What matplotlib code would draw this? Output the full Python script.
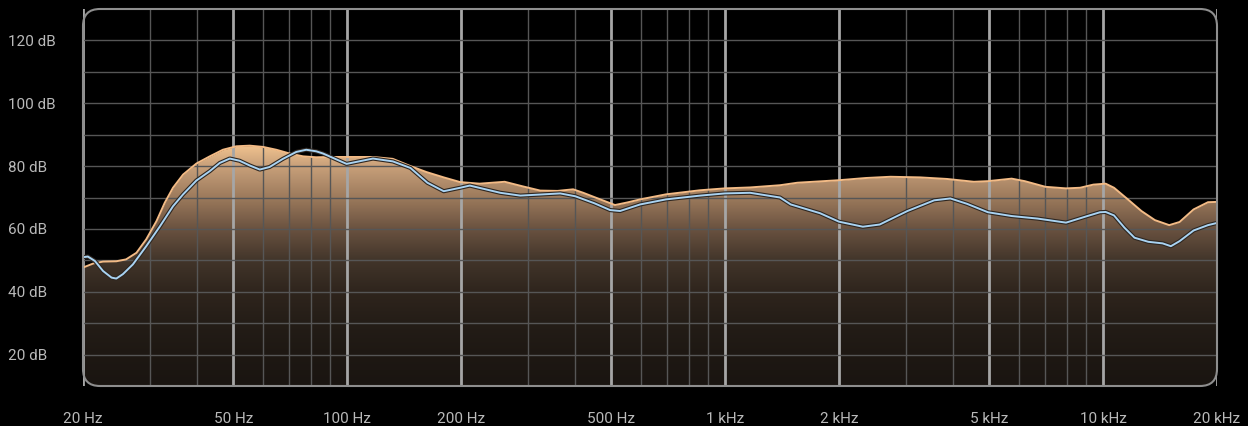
import numpy as np
import matplotlib
matplotlib.use("Agg")
import matplotlib.pyplot as plt
from matplotlib.colors import LinearSegmentedColormap
from matplotlib.patches import FancyBboxPatch
import matplotlib.patheffects as pe

# Frequency response (Hz, dB)
fill_freq = [20, 21.3, 22.6, 24.5, 26.0, 27.7, 29.4, 31.3, 32.9, 34.6, 36.8, 39.9,
             43.3, 46.9, 50.9, 55.2, 59.9, 64.9, 70.4, 76.4, 82.8, 90, 100, 117,
             132, 147, 162, 180, 199, 224, 261, 290, 324, 360, 396, 421, 467, 511,
             550, 596, 697, 858, 998, 1164, 1396, 1552, 2000, 2354, 2738, 3277,
             3862, 4549, 4957, 5726, 6200, 7032, 7973, 8688, 9420, 10150, 10680,
             11620, 12620, 13700, 14950, 15920, 17340, 18930, 20000]
fill_db = [47.7, 49.0, 49.6, 49.7, 50.3, 52.4, 56.7, 62.5, 68.3, 73.1, 77.3, 80.8,
           83.1, 85.2, 86.3, 86.5, 86.1, 85.2, 84.0, 83.1, 82.8, 82.9, 82.9, 82.9,
           82.3, 80.0, 78.1, 76.4, 74.9, 74.4, 75.0, 73.6, 72.2, 72.1, 72.6, 71.5, 69.4, 67.6,
           68.4, 69.4, 71.0, 72.3, 72.9, 73.2, 73.9, 74.7, 75.5, 76.2, 76.6, 76.4,
           75.9, 75.0, 75.2, 76.0, 75.2, 73.4, 72.9, 73.1, 74.1, 74.4, 73.1,
           69.4, 65.7, 62.8, 61.2, 62.2, 66.2, 68.5, 68.6]

line_freq = [20, 20.6, 21.5, 22.6, 23.8, 24.5, 25.5, 27.1, 29.4, 31.9, 34.6, 36.8,
             39.9, 43.3, 46.0, 48.9, 51.9, 55.2, 58.7, 62.3, 67.6, 73.3, 77.9, 82.8,
             86.3, 99.6, 117, 132, 147, 163, 180, 199, 211, 254, 287, 366, 401, 450,
             496, 527, 596, 697, 858, 998, 1164, 1396, 1490, 1782, 2000, 2313, 2563,
             3034, 3571, 3940, 4360, 4957, 5726, 6700, 7973, 9080, 9800, 10150,
             10680, 11380, 12100, 13160, 14360, 15100, 15920, 17340, 18930, 20000]
line_db = [51.0, 51.2, 49.8, 46.6, 44.5, 44.2, 45.6, 48.7, 54.5, 60.7, 67.2, 71.0,
           75.4, 78.4, 81.0, 82.4, 81.7, 80.2, 78.9, 79.7, 82.3, 84.5, 85.2, 84.7,
           84.0, 80.7, 82.4, 81.5, 79.4, 74.7, 72.0, 73.1, 73.8, 71.5, 70.6, 71.3, 70.4, 68.2,
           66.0, 65.7, 67.8, 69.4, 70.6, 71.3, 71.5, 70.0, 67.8, 65.0, 62.3, 60.7, 61.4,
           65.7, 69.1, 69.7, 68.0, 65.3, 64.1, 63.3, 62.0, 64.1, 65.3, 65.4,
           64.3, 60.4, 57.2, 55.9, 55.4, 54.5, 56.1, 59.5, 61.2, 61.9]

x_major = [20, 50, 100, 200, 500, 1000, 2000, 5000, 10000, 20000]
x_labels = ["20 Hz", "50 Hz", "100 Hz", "200 Hz", "500 Hz", "1 kHz", "2 kHz",
            "5 kHz", "10 kHz", "20 kHz"]
x_minor = [30, 40, 60, 70, 80, 90, 300, 400, 600, 700, 800, 900,
           3000, 4000, 6000, 7000, 8000, 9000]
y_major = [20, 40, 60, 80, 100, 120]
y_labels = ["20 dB", "40 dB", "60 dB", "80 dB", "100 dB", "120 dB"]
y_minor = [30, 50, 70, 90, 110]

# gradient stops (dB level, colour)
grad_db = [10, 20, 30, 40, 50, 60, 70, 80, 87, 130]
grad_col = ["#1a1511", "#1e1813", "#241d17", "#2f251d", "#42352a", "#6a5240",
            "#9c7a5c", "#c8a07a", "#f2c48f", "#f2c48f"]

Y0, Y1 = 10, 130

plt.rcParams['font.family'] = ['Roboto', 'DejaVu Sans']
fig = plt.figure(figsize=(12.48, 4.26), dpi=100, facecolor="black")
ax = fig.add_axes([83 / 1248, 40 / 426, 1134 / 1248, 377 / 426])
ax.set_facecolor("black")
ax.set_xscale("log")
ax.set_xlim(20, 20000)
ax.set_ylim(Y0, Y1)

# rounded frame
frame = FancyBboxPatch((0, 0), 1, 1, boxstyle="round,pad=0,rounding_size=0.015",
                       mutation_aspect=3.0, transform=ax.transAxes,
                       facecolor="none", edgecolor="#8e8e8e", lw=1.5,
                       zorder=5, clip_on=False)
ax.add_patch(frame)

# gradient under the curve
cmap = LinearSegmentedColormap.from_list(
    "warm", [((d - Y0) / (Y1 - Y0), c) for d, c in zip(grad_db, grad_col)])
grad = np.linspace(0, 1, 512).reshape(-1, 1)
img = ax.imshow(grad, cmap=cmap, origin="lower", extent=[0, 1, 0, 1],
                transform=ax.transAxes, aspect="auto", zorder=0,
                interpolation="bilinear")
img.set_clip_path(frame)
ax.fill_between(fill_freq, fill_db, Y1, color="black", lw=0, zorder=1)
ax.plot(fill_freq, fill_db, color="#f3bb86", lw=1.4, zorder=3)

ax.plot(line_freq, line_db, color="#a9d3f2", lw=1.4, zorder=4,
        path_effects=[pe.Stroke(linewidth=3, foreground="#2e2620"), pe.Normal()])

# grid
ax.set_xticks(x_major)
ax.set_xticklabels(x_labels)
ax.set_xticks(x_minor, minor=True)
ax.set_yticks(y_major)
ax.set_yticklabels(y_labels)
ax.set_yticks(y_minor, minor=True)
ax.set_axisbelow(False)
ax.xaxis.grid(True, which="major", color="#a6a6a6", lw=2)
ax.xaxis.grid(True, which="minor", color="#565656", lw=1)
ax.yaxis.grid(True, which="both", color="#565656", lw=1)

ax.tick_params(which="both", length=0)
ax.tick_params(axis="x", pad=19, labelsize=11, labelcolor="#b9b9b9")
ax.tick_params(axis="y", pad=54, labelsize=11, labelcolor="#b9b9b9")
for lab in ax.get_yticklabels():
    lab.set_horizontalalignment("left")
for s in ax.spines.values():
    s.set_visible(False)

fig.savefig("out.png", dpi=100, facecolor="black")
